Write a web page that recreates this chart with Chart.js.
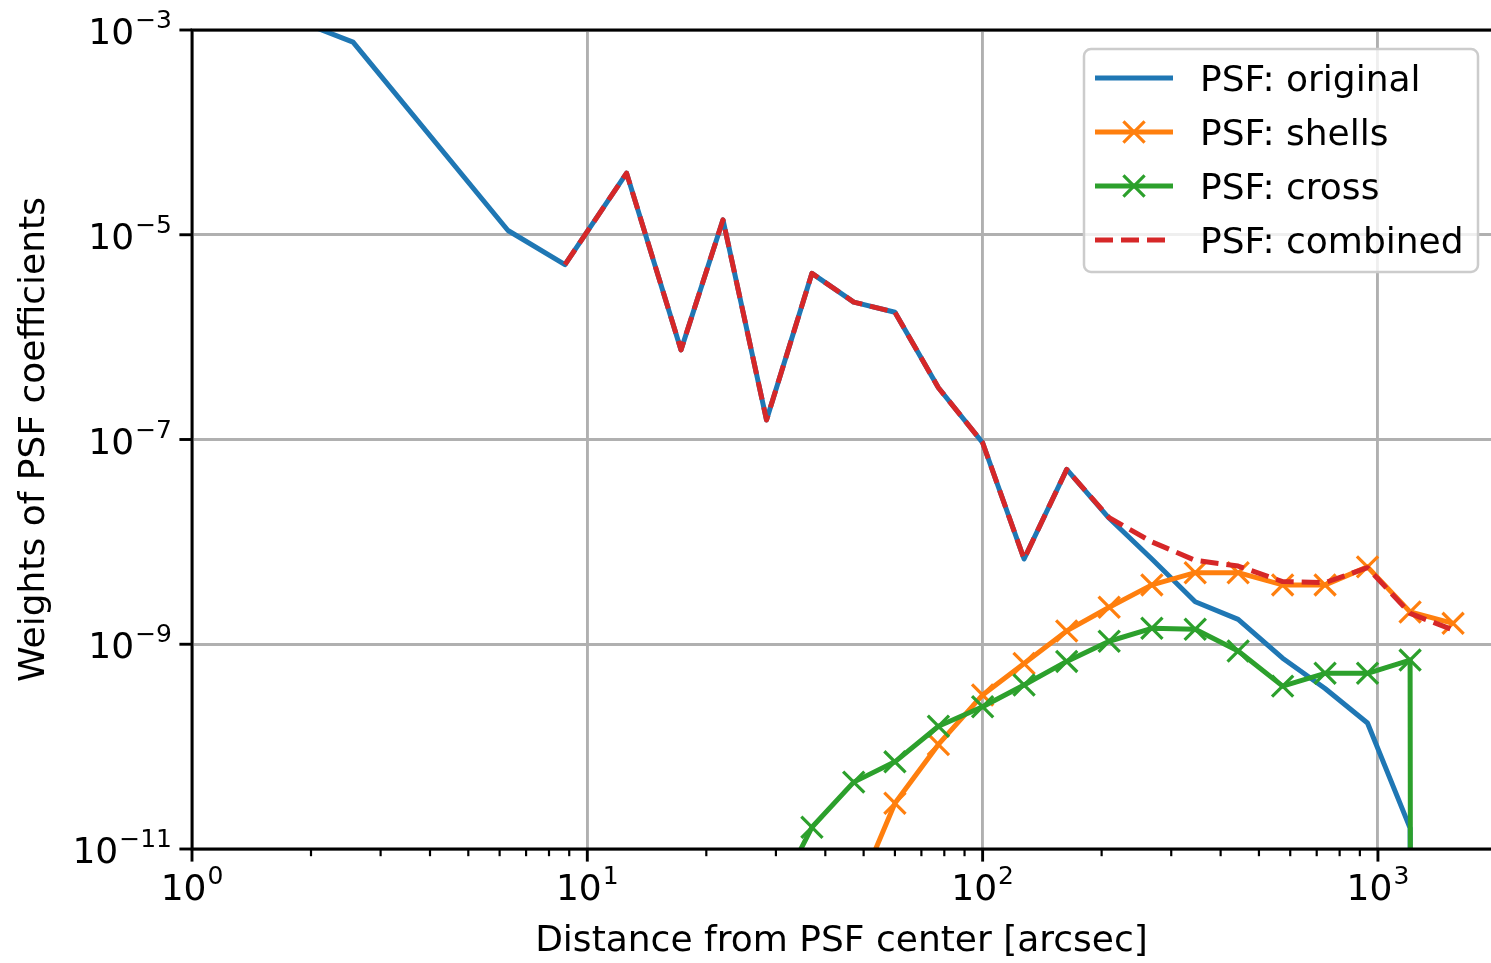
<!DOCTYPE html>
<html>
<head>
<meta charset="utf-8">
<script src="https://cdn.jsdelivr.net/npm/chart.js@4.4.1/dist/chart.umd.min.js"></script>
<style>
  html, body { margin: 0; padding: 0; background: #fff; overflow: hidden; }
  canvas { display: block; }
</style>
</head>
<body>
<canvas id="psfChart" width="1491" height="963"></canvas>
<script>
// Distance from PSF center [arcsec]
const radius = [2.0, 2.555, 6.30, 8.78, 12.57, 17.26, 22.04, 28.40, 37.0, 47.2, 60.0, 77.3,
                100, 127.3, 163.2, 209, 268, 345, 443, 574, 735, 941, 1206, 1549];

// Weights of PSF coefficients (0 = dropped to zero, drawn off the bottom as in matplotlib)
const psfOriginal = [1.1e-3, 7.6e-4, 1.10e-5, 5.1e-6, 4.0e-5, 7.5e-7, 1.4e-5, 1.55e-7, 4.2e-6, 2.2e-6, 1.75e-6, 3.2e-7,
                     9.3e-8, 6.8e-9, 5.1e-8, 1.7e-8, 6.8e-9, 2.6e-9, 1.75e-9, 7.3e-10, 3.7e-10, 1.7e-10, 1.6e-11, 0];
const psfShells = [null, null, null, null, null, null, null, null, null, 3.1e-12, 2.8e-11, 1.05e-10,
                   3.2e-10, 6.5e-10, 1.35e-9, 2.3e-9, 3.8e-9, 5.0e-9, 5.0e-9, 3.8e-9, 3.8e-9, 5.7e-9, 2.07e-9, 1.6e-9];
const psfCross = [null, null, null, null, null, null, null, 2.2e-12, 1.63e-11, 4.5e-11, 7.1e-11, 1.58e-10,
                  2.45e-10, 4.0e-10, 6.8e-10, 1.07e-9, 1.43e-9, 1.40e-9, 8.6e-10, 3.9e-10, 5.2e-10, 5.2e-10, 7.0e-10, 0];
const psfCombined = [null, null, null, 5.1e-6, 4.0e-5, 7.5e-7, 1.4e-5, 1.55e-7, 4.2e-6, 2.2e-6, 1.75e-6, 3.2e-7,
                     9.3e-8, 6.8e-9, 5.1e-8, 1.72e-8, 1.0e-8, 6.6e-9, 5.8e-9, 4.1e-9, 4.0e-9, 5.6e-9, 2.0e-9, 1.38e-9];

// axis ranges and tick exponents
const xRange = [1, 1932];
const yRange = [1e-11, 1e-3];
const xTickExps = [0, 1, 2, 3];
const yTickExps = [-11, -9, -7, -5, -3];

const FONT = "'DejaVu Sans', 'Liberation Sans', sans-serif";
Chart.defaults.font.family = FONT;

// zero on a log axis: push far below like matplotlib's clipping
function pts(vals) {
    return radius.map((r, i) => ({ x: r, y: vals[i] === null ? null : (vals[i] === 0 ? 1e-300 : vals[i]) }));
}

function supLabel(ctx, exp, x, baseline, align) {
    const base = "10";
    const sup = String(exp).replace("-", "\u2212");
    ctx.font = "36px " + FONT;
    const w1 = ctx.measureText(base).width;
    ctx.font = "25px " + FONT;
    const w2 = ctx.measureText(sup).width;
    const total = w1 + 1 + w2;
    let start = align === "center" ? x - total / 2 : x - total;
    ctx.textAlign = "left";
    ctx.textBaseline = "alphabetic";
    ctx.font = "36px " + FONT;
    ctx.fillText(base, start, baseline);
    ctx.font = "25px " + FONT;
    ctx.fillText(sup, start + w1 + 1, baseline - 16);
}

// spines, tick marks, tick labels
const axesPlugin = {
    id: "mplAxes",
    afterDatasetsDraw(chart) {
        const { ctx, chartArea: a, scales: { x, y } } = chart;
        ctx.save();
        ctx.strokeStyle = "#000";
        ctx.fillStyle = "#000";
        ctx.lineWidth = 2.9;
        ctx.lineCap = "square";
        ctx.beginPath();
        ctx.moveTo(a.right + 5, a.top);
        ctx.lineTo(a.left, a.top);
        ctx.lineTo(a.left, a.bottom);
        ctx.lineTo(a.right + 5, a.bottom);
        ctx.stroke();
        ctx.lineCap = "butt";
        x.ticks.forEach(t => {
            const px = x.getPixelForValue(t.value);
            if (px > a.right + 1) return;
            ctx.lineWidth = t.major ? 2.9 : 2.2;
            ctx.beginPath();
            ctx.moveTo(px, a.bottom);
            ctx.lineTo(px, a.bottom + (t.major ? 12.6 : 7.2));
            ctx.stroke();
            if (t.major) supLabel(ctx, Math.round(Math.log10(t.value)), px, a.bottom + 51, "center");
        });
        y.ticks.forEach(t => {
            const py = y.getPixelForValue(t.value);
            ctx.lineWidth = 2.9;
            ctx.beginPath();
            ctx.moveTo(a.left, py);
            ctx.lineTo(a.left - 12.6, py);
            ctx.stroke();
            supLabel(ctx, Math.round(Math.log10(t.value)), a.left - 20, py + 14, "right");
        });
        ctx.restore();
    }
};

// matplotlib-style legend box in the upper right
const legendPlugin = {
    id: "mplLegend",
    afterDraw(chart) {
        const { ctx, chartArea: a } = chart;
        const right = a.right - 13, top = a.top + 19, w = 394, h = 223, left = right - w;
        ctx.save();
        ctx.beginPath();
        ctx.roundRect(left, top, w, h, 7);
        ctx.fillStyle = "rgba(255,255,255,0.8)";
        ctx.fill();
        ctx.strokeStyle = "#cccccc";
        ctx.lineWidth = 2.5;
        ctx.stroke();
        chart.data.datasets.forEach((ds, i) => {
            const rowY = top + 29 + i * 54;
            const x0 = left + 11, x1 = left + 89, xm = (x0 + x1) / 2;
            ctx.strokeStyle = ds.borderColor;
            ctx.lineWidth = ds.borderWidth;
            ctx.setLineDash(ds.borderDash || []);
            ctx.beginPath();
            ctx.moveTo(x0, rowY);
            ctx.lineTo(x1, rowY);
            ctx.stroke();
            ctx.setLineDash([]);
            if (ds.pointRadius > 0) {
                const r = ds.pointRadius * Math.SQRT1_2;
                ctx.lineWidth = ds.pointBorderWidth;
                ctx.beginPath();
                ctx.moveTo(xm - r, rowY - r); ctx.lineTo(xm + r, rowY + r);
                ctx.moveTo(xm - r, rowY + r); ctx.lineTo(xm + r, rowY - r);
                ctx.stroke();
            }
            ctx.fillStyle = "#000";
            ctx.font = "36px " + FONT;
            ctx.textAlign = "left";
            ctx.textBaseline = "alphabetic";
            ctx.fillText(ds.label, left + 116, rowY + 13);
        });
        ctx.restore();
    }
};

const gridOpts = {
    color: c => (c.tick && c.tick.major ? "#b0b0b0" : "rgba(0,0,0,0)"),
    lineWidth: 2.9,
    drawTicks: false
};

new Chart(document.getElementById("psfChart").getContext("2d"), {
    type: "line",
    data: {
        datasets: [
            {
                label: "PSF: original",
                data: pts(psfOriginal),
                borderColor: "#1f77b4",
                borderWidth: 5,
                pointRadius: 0,
                order: 4
            },
            {
                label: "PSF: shells",
                data: pts(psfShells),
                borderColor: "#ff7f0e",
                backgroundColor: "#ff7f0e",
                borderWidth: 5,
                pointStyle: "crossRot",
                pointRadius: 15,
                pointBorderWidth: 3.2,
                pointBorderColor: "#ff7f0e",
                order: 3
            },
            {
                label: "PSF: cross",
                data: pts(psfCross),
                borderColor: "#2ca02c",
                backgroundColor: "#2ca02c",
                borderWidth: 5,
                pointStyle: "crossRot",
                pointRadius: 15,
                pointBorderWidth: 3.2,
                pointBorderColor: "#2ca02c",
                order: 2
            },
            {
                label: "PSF: combined",
                data: pts(psfCombined),
                borderColor: "#d62728",
                borderWidth: 5,
                borderDash: [18, 8],
                pointRadius: 0,
                order: 1
            }
        ]
    },
    options: {
        responsive: false,
        animation: false,
        events: [],
        clip: 0,
        layout: { autoPadding: false, padding: { top: 30, right: 0, bottom: 0, left: 0 } },
        elements: { line: { borderJoinStyle: "round", tension: 0 } },
        plugins: { legend: { display: false }, tooltip: { enabled: false } },
        scales: {
            x: {
                type: "logarithmic",
                position: "bottom",
                min: xRange[0],
                max: xRange[1],
                grid: gridOpts,
                border: { display: false },
                ticks: { display: false },
                afterBuildTicks: scale => {
                    const ticks = [];
                    xTickExps.forEach(e => {
                        for (let m = 1; m <= 9; m++) {
                            const v = m * Math.pow(10, e);
                            if (v <= xRange[1]) ticks.push({ value: v, major: m === 1 });
                        }
                    });
                    scale.ticks = ticks;
                },
                afterFit: scale => { scale.height = 114; },
                title: {
                    display: true,
                    text: "Distance from PSF center [arcsec]",
                    color: "#000",
                    font: { size: 36, family: FONT },
                    padding: { top: 0, bottom: 0 }
                }
            },
            y: {
                type: "logarithmic",
                min: yRange[0],
                max: yRange[1],
                grid: gridOpts,
                border: { display: false },
                ticks: { display: false },
                afterBuildTicks: scale => {
                    scale.ticks = yTickExps.map(e => ({ value: Math.pow(10, e), major: true }));
                },
                afterFit: scale => { scale.width = 192; },
                title: {
                    display: true,
                    text: "Weights of PSF coefficients",
                    color: "#000",
                    font: { size: 36, family: FONT },
                    padding: { top: 13, bottom: 0 }
                }
            }
        }
    },
    plugins: [axesPlugin, legendPlugin]
});
</script>
</body>
</html>
